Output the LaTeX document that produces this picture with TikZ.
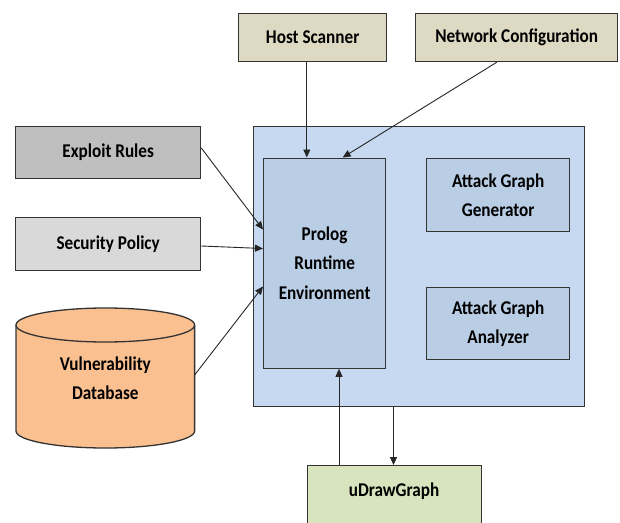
\documentclass[tikz,border=0pt]{standalone}
\usepackage{fontspec}
\setmainfont{Carlito}[FakeStretch=0.88]
\usetikzlibrary{arrows.meta}
\definecolor{beige}{HTML}{DDD9C3}
\definecolor{darkgrey}{HTML}{BFBFBF}
\definecolor{lightgrey}{HTML}{D9D9D9}
\definecolor{dbfill}{HTML}{FAC090}
\definecolor{outerblue}{HTML}{C6D9F1}
\definecolor{innerblue}{HTML}{B9CDE5}
\definecolor{green}{HTML}{D7E4BD}
\definecolor{edge}{HTML}{333333}
\tikzset{
  label text/.style={font=\bfseries\fontsize{19.5}{29.5}\selectfont, align=center},
  box/.style={draw=edge, line width=1.3pt, inner sep=0pt, anchor=north west, label text},
  link/.style={-{Triangle[length=8pt,width=7pt]}, line width=0.9pt, draw=black!85},
}
\begin{document}
\begin{tikzpicture}[x=1pt,y=-1pt]
\useasboundingbox (0,0) rectangle (620,522);

% source boxes
\node[box, fill=beige, minimum width=148, minimum height=48] (host) at (238,13) {Host Scanner};
\node[box, fill=beige, minimum width=202, minimum height=48] (net) at (415,13) {Network Configuration};
\node[box, fill=darkgrey, minimum width=185, minimum height=52] (exploit) at (15,126) {Exploit Rules};
\node[box, fill=lightgrey, minimum width=185, minimum height=53] (policy) at (15,217) {Security Policy};

% runtime container and its components
\node[box, fill=outerblue, minimum width=331, minimum height=280] (core) at (253,126) {};
\node[box, fill=innerblue, minimum width=122, minimum height=210] (prolog) at (263,157.5) {Prolog\\Runtime\\Environment};
\node[box, fill=innerblue, minimum width=143, minimum height=73] (gen) at (426,158) {Attack Graph\\Generator};
\node[box, fill=innerblue, minimum width=143, minimum height=72] (ana) at (426,287) {Attack Graph\\Analyzer};

% vulnerability database (cylinder)
\draw[edge, line width=1.3pt, fill=dbfill] (16,325) -- (16,431)
  arc[start angle=180, end angle=0, x radius=89.3, y radius=17] -- (194.6,325);
\draw[edge, line width=1.3pt, fill=dbfill] (105.3,325) ellipse[x radius=89.3, y radius=17];
\node[label text] (vdb) at (105.3,378) {Vulnerability\\Database};
\coordinate (vdbout) at (194.6,375);

% viewer
\node[box, fill=green, minimum width=174, minimum height=70] (udraw) at (307,465) {};
\node[label text] (udrawlabel) at (394,491) {uDrawGraph};

% connectors
\draw[link] (host.south -| 306.8,0) -- (prolog.north -| 306.8,0);
\draw[link] ([xshift=-20]net.south) -- ([xshift=18]prolog.north);
\draw[link] ([yshift=-22]exploit.north east) -- ([yshift=-72]prolog.north west);
\draw[link] ([yshift=-29]policy.north east) -- ([yshift=-91]prolog.north west);
\draw[link] (vdbout) -- ([yshift=-129]prolog.north west);
\draw[link] (udraw.north -| 339,0) -- (prolog.south -| 339,0);
\draw[link] (core.south -| 393.5,0) -- (udraw.north -| 393.5,0);
\end{tikzpicture}
\end{document}
